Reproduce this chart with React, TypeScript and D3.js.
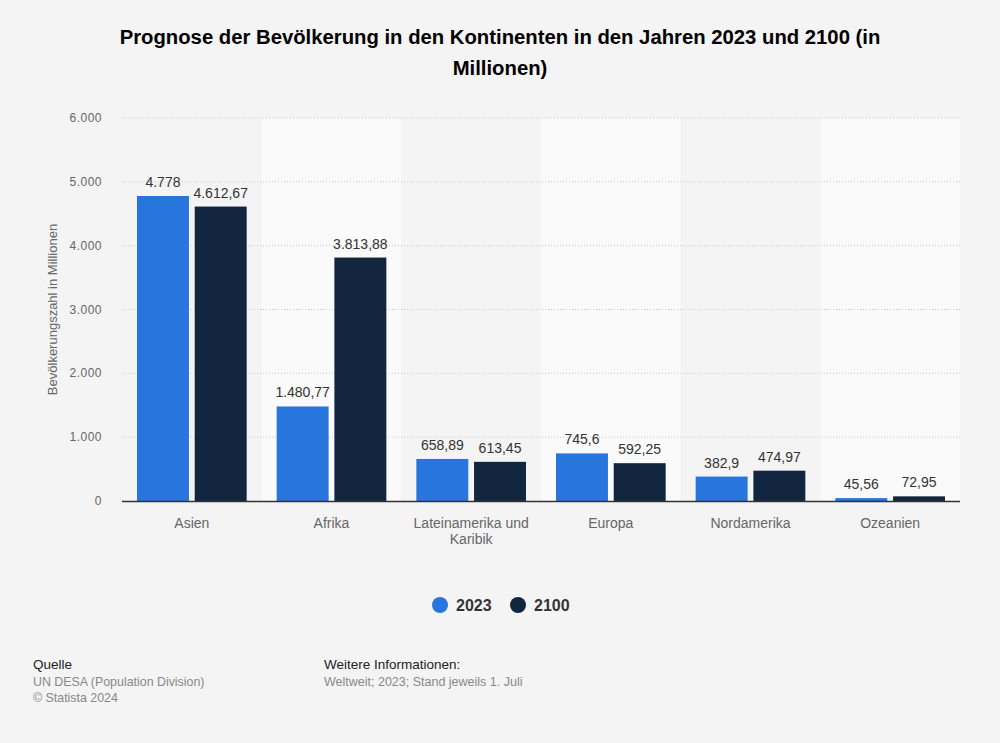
import React from "react";
import * as d3 from "d3";

const categories = ["Asien", "Afrika", "Lateinamerika und Karibik", "Europa", "Nordamerika", "Ozeanien"];
const categoryLines = [["Asien"], ["Afrika"], ["Lateinamerika und", "Karibik"], ["Europa"], ["Nordamerika"], ["Ozeanien"]];
const series2023 = [4778, 1480.77, 658.89, 745.6, 382.9, 45.56];
const series2100 = [4612.67, 3813.88, 613.45, 592.25, 474.97, 72.95];
const seriesNames = ["2023", "2100"];
const seriesColors = ["#2876dd", "#12263f"];
const yTicks = [0, 1000, 2000, 3000, 4000, 5000, 6000];

const W = 1000, H = 743;
const left = 122, right = 960, top = 118, bottom = 501;

const fmt = (v: number) => {
  const [i, d] = String(v).split(".");
  const ip = i.replace(/\B(?=(\d{3})+(?!\d))/g, ".");
  return d ? ip + "," + d : ip;
};

export default function App() {
  const x = d3.scaleBand<string>().domain(categories).range([left, right]).paddingInner(0).paddingOuter(0);
  const x1 = d3.scaleBand<string>().domain(seriesNames).range([15, x.bandwidth() - 15]).paddingInner(0.1).paddingOuter(0);
  const y = d3.scaleLinear().domain([0, 6000]).range([bottom, top]);
  const font = "'Liberation Sans', Arial, sans-serif";
  const data = [series2023, series2100];

  return (
    <svg width={W} height={H} style={{ position: "absolute", left: 0, top: 0, fontFamily: font }}>
      <rect width={W} height={H} fill="#f4f4f4" />
      {categories.map((c, i) =>
        i % 2 === 1 ? <rect key={c} x={x(c)} y={top} width={x.bandwidth()} height={bottom - top} fill="#fafafa" /> : null
      )}
      <text x={500} y={44} textAnchor="middle" fontSize={20.3} fontWeight="bold" fill="#000">
        Prognose der Bevölkerung in den Kontinenten in den Jahren 2023 und 2100 (in
      </text>
      <text x={500} y={75} textAnchor="middle" fontSize={20.3} fontWeight="bold" fill="#000">
        Millionen)
      </text>
      {yTicks.map((t) => (
        <g key={t}>
          {t > 0 && <line x1={left} x2={right} y1={y(t)} y2={y(t)} stroke="#c8c8c8" strokeDasharray="1,2" />}
          <text x={102} y={y(t) + 4} textAnchor="end" fontSize={12} letterSpacing={0.5} fill="#666">{fmt(t)}</text>
        </g>
      ))}
      <text transform={`translate(57,${(top + bottom) / 2}) rotate(-90)`} textAnchor="middle" fontSize={13} fill="#666">
        Bevölkerungszahl in Millionen
      </text>
      {categories.map((c, i) =>
        data.map((s, j) => {
          const bx = (x(c) as number) + (x1(seriesNames[j]) as number);
          const v = s[i];
          return (
            <g key={c + j}>
              <rect x={bx} y={y(v)} width={x1.bandwidth()} height={bottom - y(v)} fill={seriesColors[j]} />
              <text x={bx + x1.bandwidth() / 2} y={y(v) - 9} textAnchor="middle" fontSize={14} fill="#333">{fmt(v)}</text>
            </g>
          );
        })
      )}
      <line x1={left} x2={right} y1={bottom + 0.5} y2={bottom + 0.5} stroke="#333" strokeWidth={1.5} />
      {categories.map((c, i) => (
        <text key={c} x={(x(c) as number) + x.bandwidth() / 2} y={528} textAnchor="middle" fontSize={14} fill="#666">
          {categoryLines[i].map((l, k) => (
            <tspan key={k} x={(x(c) as number) + x.bandwidth() / 2} dy={k === 0 ? 0 : 16}>{l}</tspan>
          ))}
        </text>
      ))}
      {seriesNames.map((n, j) => {
        const lx = j === 0 ? 440 : 518;
        return (
          <g key={n}>
            <circle cx={lx} cy={605} r={8} fill={seriesColors[j]} />
            <text x={lx + 16} y={611} fontSize={16} fontWeight="bold" fill="#333">{n}</text>
          </g>
        );
      })}
      <text x={33} y={669} fontSize={13.5} fill="#222">Quelle</text>
      <text x={33} y={686} fontSize={12.4} fill="#888">UN DESA (Population Division)</text>
      <text x={33} y={702} fontSize={12.4} fill="#888">© Statista 2024</text>
      <text x={324} y={669} fontSize={13.5} fill="#222">Weitere Informationen:</text>
      <text x={324} y={686} fontSize={12.5} fill="#888">Weltweit; 2023; Stand jeweils 1. Juli</text>
    </svg>
  );
}
